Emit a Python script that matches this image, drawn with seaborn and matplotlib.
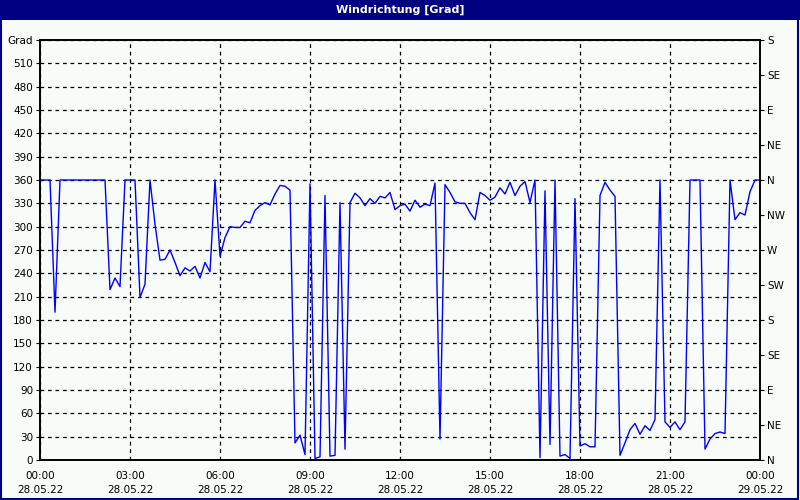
import numpy as np
import pandas as pd
import matplotlib
matplotlib.use("Agg")
import matplotlib.pyplot as plt
import matplotlib.dates as mdates
from matplotlib.patches import Rectangle
import seaborn as sns

# ---- data (10-minute wind direction readings, degrees) ----
start_time = "2022-05-28 00:00"
step = "10min"
direction_deg = [
    360, 360, 360, 190, 360, 360, 360, 360, 360, 360,   # 0-9
    360, 360, 360, 360, 219, 234, 223, 360, 360, 360,   # 10-19
    209, 226, 360, 303, 257, 258, 270, 254, 237, 247,   # 20-29
    243, 249, 234, 254, 242, 360, 262, 286, 300, 299,   # 30-39
    299, 307, 305, 321, 327, 331, 328, 342, 353, 352,   # 40-49
    347, 22, 32, 7, 355, 2, 4, 340, 5, 6,               # 50-59
    331, 14, 331, 343, 337, 327, 336, 330, 339, 337,    # 60-69
    344, 322, 327, 329, 320, 334, 325, 329, 327, 356,   # 70-79
    27, 354, 344, 332, 330, 330, 318, 309, 344, 340,    # 80-89
    334, 338, 350, 342, 357, 340, 352, 358, 331, 360,   # 90-99
    3, 346, 20, 360, 5, 7, 2, 336, 18, 21,              # 100-109
    17, 17, 340, 357, 347, 339, 6, 22, 39, 47,          # 110-119
    33, 44, 38, 52, 360, 49, 42, 49, 39, 49,            # 120-129
    360, 360, 360, 14, 27, 34, 36, 34, 360, 309,        # 130-139
    318, 315, 345, 360, 360,                            # 140-144
]
left_ticks = list(range(0, 541, 30))
left_labels = [str(v) for v in range(0, 511, 30)] + ["Grad"]
compass_ticks = list(range(0, 541, 45))
compass_labels = ["N", "NE", "E", "SE", "S", "SW", "W", "NW", "N", "NE", "E", "SE", "S"]
title = "Windrichtung [Grad]"

times = pd.date_range(start_time, periods=len(direction_deg), freq=step)
df = pd.DataFrame({"time": times, "deg": direction_deg})

# ---- styling ----
sns.set_style("white")
plt.rcParams["font.family"] = ["DejaVu Sans"]
bg = "#f8fcf8"
navy = "#000080"

fig = plt.figure(figsize=(8, 5), dpi=100, facecolor=bg)
ax = fig.add_axes([40 / 800, 40 / 500, 720 / 800, 420 / 500])
ax.set_facecolor(bg)

sns.lineplot(data=df, x="time", y="deg", ax=ax, color="#0000ff", linewidth=1.0)

x0 = times[0]
x1 = times[0] + pd.Timedelta(hours=24)
ax.set_xlim(x0, x1)
ax.set_ylim(0, 540)
ax.set_xlabel("")
ax.set_ylabel("")

ax.xaxis.set_major_locator(mdates.HourLocator(byhour=range(0, 24, 3)))
ax.xaxis.set_minor_locator(mdates.HourLocator())
ax.xaxis.set_major_formatter(mdates.DateFormatter("%H:%M\n%d.%m.%y"))

ax.set_yticks(left_ticks)
ax.set_yticklabels(left_labels)

ax.grid(True, which="major", color="black", linestyle=(0, (3, 3)), linewidth=0.9)

for s in ax.spines.values():
    s.set_color("black")
    s.set_linewidth(1.2)

ax.tick_params(axis="both", which="major", direction="out", length=3, width=0.8,
               colors="black", labelsize=7.5)
ax.tick_params(axis="x", which="major", pad=5)
ax.tick_params(axis="x", which="minor", direction="out", length=3, width=0.8)
ax.tick_params(axis="y", which="major", left=True, pad=2)
for lab in ax.get_xticklabels():
    lab.set_linespacing(1.5)

ax2 = ax.twinx()
ax2.set_ylim(0, 540)
ax2.set_yticks(compass_ticks)
ax2.set_yticklabels(compass_labels)
ax2.tick_params(axis="y", direction="out", length=3, width=0.8, colors="black",
                labelsize=7.5, pad=2)
for s in ax2.spines.values():
    s.set_color("black")
    s.set_linewidth(1.2)
ax2.grid(False)

# title bar and frame
fig.patches.append(Rectangle((0, 1 - 20 / 500), 1, 20 / 500, transform=fig.transFigure,
                             facecolor=navy, edgecolor="none", zorder=0))
fig.patches.append(Rectangle((0.001, 0.002), 0.997, 0.996, transform=fig.transFigure,
                             facecolor="none", edgecolor=navy, linewidth=1.5, zorder=5))
fig.text(0.5, 1 - 10 / 500, title, ha="center", va="center", color="white",
         fontsize=8, fontweight="bold")

fig.savefig("out.png", dpi=100, facecolor=bg)
